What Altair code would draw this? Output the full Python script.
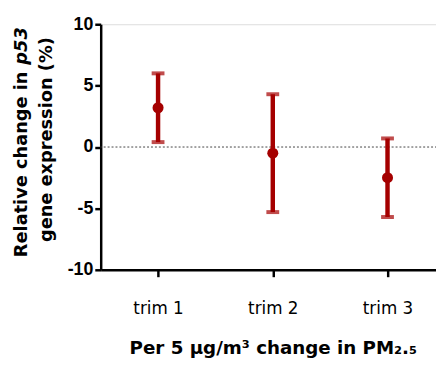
import altair as alt
import pandas as pd

categories = ["trim 1", "trim 2", "trim 3"]
means = [3.2, -0.5, -2.5]
lows = [0.4, -5.3, -5.7]
highs = [6.0, 4.3, 0.7]

df = pd.DataFrame({"cat": categories, "mean": means, "low": lows, "high": highs})

RED = "#a50000"

xenc = alt.X("cat:N", sort=categories,
             scale=alt.Scale(type="point", padding=0.5),
             axis=alt.Axis(title="Per 5 µg/m³ change in PM₂.₅", labelAngle=0,
                           labelFont="DejaVu Sans", labelFontSize=17, labelColor="#000",
                           labelPadding=24, tickSize=7, tickWidth=2.5, tickColor="#000",
                           domainColor="#000", domainWidth=2.5,
                           titleFont="DejaVu Sans", titleFontSize=18.5, titleFontWeight="bold",
                           titleColor="#000", titlePadding=23))
yscale = alt.Scale(domain=[-10, 10], nice=False)
yaxis = alt.Axis(title=None, values=[-10, -5, 0, 5, 10], grid=False,
                 labelExpr="datum.value",
                 labelFont="Liberation Sans", labelFontSize=18, labelFontWeight="bold",
                 labelColor="#000", labelPadding=2, tickSize=6, tickWidth=2.5,
                 tickColor="#000", domainColor="#000", domainWidth=2.5)

base = alt.Chart(df)

zero = alt.Chart(pd.DataFrame({"z": [0]})).mark_rule(
    color="#444", strokeWidth=1, strokeDash=[2, 2]).encode(y=alt.Y("z:Q", scale=yscale, axis=yaxis))

bars = base.mark_rule(color=RED, strokeWidth=4.5).encode(
    x=xenc, y=alt.Y("low:Q", scale=yscale, axis=yaxis), y2="high:Q")
capl = base.mark_tick(color=RED, thickness=4, size=13).encode(
    x=xenc, y=alt.Y("low:Q", scale=yscale))
caph = base.mark_tick(color=RED, thickness=4, size=13).encode(
    x=xenc, y=alt.Y("high:Q", scale=yscale))
pts = base.mark_circle(color=RED, size=125, opacity=1).encode(
    x=xenc, y=alt.Y("mean:Q", scale=yscale))

tfont = dict(font="DejaVu Sans", fontSize=18, fontWeight="bold", color="#000",
             angle=270, baseline="alphabetic")
t1 = alt.Chart(pd.DataFrame({"t": ["Relative change in"]})).mark_text(
    align="right", **tfont).encode(text="t:N", x=alt.value(-75), y=alt.value(48))
t2 = alt.Chart(pd.DataFrame({"t": ["p53"]})).mark_text(
    align="left", fontStyle="italic", **tfont).encode(text="t:N", x=alt.value(-75), y=alt.value(41))
t3 = alt.Chart(pd.DataFrame({"t": ["gene expression (%)"]})).mark_text(
    align="center", **tfont).encode(text="t:N", x=alt.value(-49), y=alt.value(117))

chart = alt.layer(zero, bars, capl, caph, pts, t1, t2, t3).properties(
    width=349, height=249,
    autosize=alt.AutoSizeParams(type="none"),
    padding={"left": 94, "top": 14, "right": -9, "bottom": 90},
).configure_view(stroke=None).configure(background="white")

chart.save("out.html", embed_options={"renderer": "svg", "actions": False})
